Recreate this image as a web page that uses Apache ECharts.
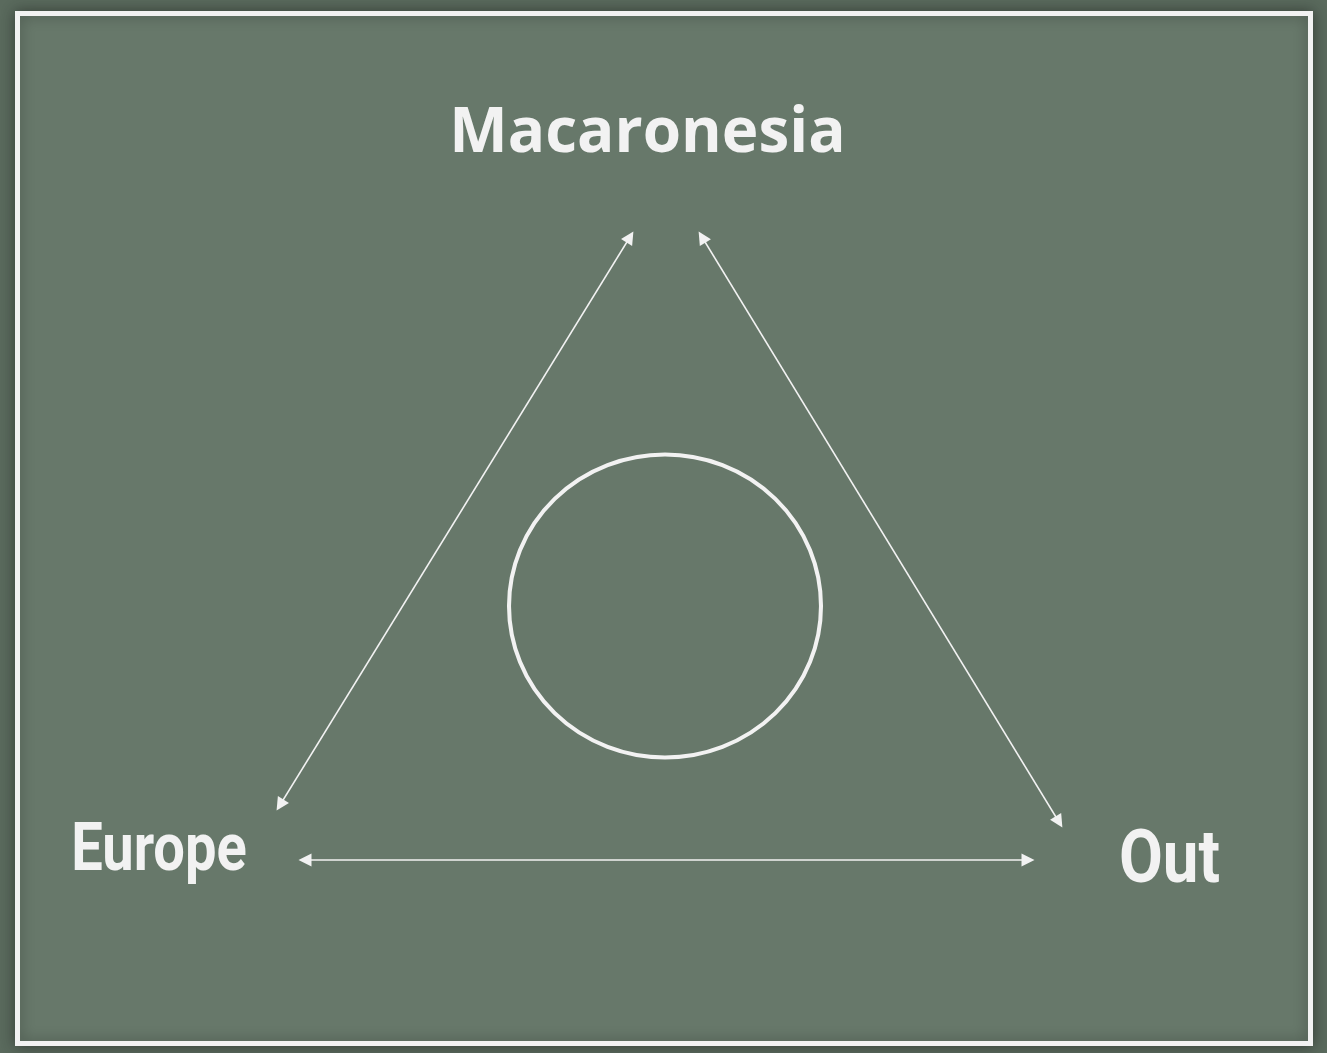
<!DOCTYPE html>
<html>
<head>
<meta charset="utf-8">
<title>Macaronesia</title>
<script src="https://cdn.jsdelivr.net/npm/echarts@6/dist/echarts.min.js"></script>
<style>
  html, body { margin: 0; padding: 0; background: #5a6a5d; }
  #chart { width: 1327px; height: 1053px; }
</style>
</head>
<body>
<div id="chart"></div>
<script>
// regions (node labels) and their anchor (centre x, top y) on the hidden 0..1327 x 0..1053 plane
const regionNames = ['Macaronesia', 'Europe', 'Out'];
const regionX = [647.5, 159, 1169.5];
const regionY = [103, 820, 826];

// double-headed arrows between the regions
const arrowFrom = [[280, 805], [702, 237], [305, 860]];
const arrowTo = [[630, 237], [1059, 822], [1028, 860]];

// central ring
const ringCenter = [665, 606];

const fg = '#f2f2f2';

// label look, one entry per region
const labelStyle = [
  { font: 'bold 62px "Open Sans"', scaleX: 1 },
  { font: 'bold 66px Roboto', scaleX: 0.85 },
  { font: 'bold 74px Roboto', scaleX: 0.86 }
];

const chart = echarts.init(document.getElementById('chart'));

const option = {
  backgroundColor: '#5a6a5d',
  animation: false,
  graphic: [
    {
      type: 'rect',
      shape: { x: 17.5, y: 13.5, width: 1293, height: 1030 },
      style: {
        fill: '#67786a',
        stroke: fg,
        lineWidth: 5,
        shadowBlur: 14,
        shadowColor: 'rgba(0,0,0,0.35)'
      },
      z: -10
    }
  ],
  grid: { left: 0, right: 0, top: 0, bottom: 0 },
  xAxis: { type: 'value', min: 0, max: 1327, show: false },
  yAxis: { type: 'value', min: 0, max: 1053, inverse: true, show: false },
  series: [
    {
      type: 'lines',
      coordinateSystem: 'cartesian2d',
      symbol: ['triangle', 'triangle'],
      symbolSize: 13,
      lineStyle: { color: fg, width: 1.5, opacity: 1 },
      itemStyle: { color: fg, opacity: 1 },
      data: arrowFrom.map((p, i) => ({ coords: [p, arrowTo[i]] }))
    },
    {
      type: 'scatter',
      symbol: 'circle',
      symbolSize: [312, 303],
      itemStyle: { color: 'transparent', borderColor: fg, borderWidth: 4, opacity: 1 },
      data: [ringCenter]
    },
    {
      type: 'custom',
      data: regionNames.map((n, i) => [regionX[i], regionY[i], i]),
      renderItem: (params, api) => {
        const pt = api.coord([api.value(0), api.value(1)]);
        const i = api.value(2);
        return {
          type: 'text',
          x: pt[0],
          y: pt[1],
          scaleX: labelStyle[i].scaleX,
          style: {
            text: regionNames[i],
            font: labelStyle[i].font,
            fill: fg,
            align: 'center',
            verticalAlign: 'top'
          }
        };
      }
    }
  ]
};

chart.setOption(option);
</script>
</body>
</html>
